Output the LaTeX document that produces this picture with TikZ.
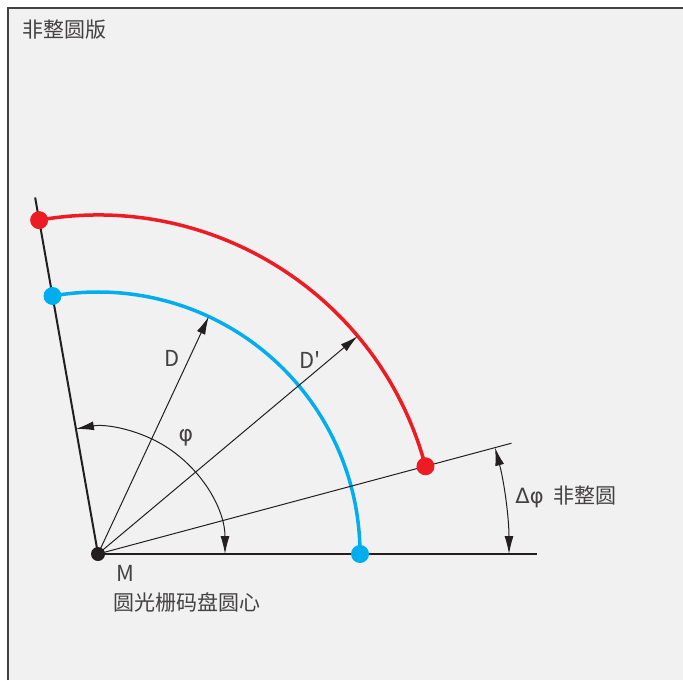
\documentclass[tikz,border=0pt]{standalone}
\usepackage{fontspec}
\setmainfont{Noto Sans CJK SC}
\newfontfamily\greekfont{DejaVu Sans}
\newfontfamily\plainfont{Noto Sans CJK SC}
\usetikzlibrary{arrows.meta, calc}
\definecolor{arcred}{HTML}{ED1C24}
\definecolor{arcblue}{HTML}{00AEEF}
\definecolor{panel}{HTML}{F1F1F1}
\definecolor{ink}{HTML}{231F20}
\tikzset{
  axis/.style={draw=ink, line width=1pt},
  ray/.style={draw=ink, line width=0.5pt},
  dim/.style={ink, line width=0.5pt, {Latex[length=9pt,width=4.5pt]}-{Latex[length=9pt,width=4.5pt]}},
  rad/.style={ink, line width=0.5pt, -{Latex[length=9pt,width=4.5pt]}},
  arcline/.style={line width=1.75pt},
  dot/.style={circle, fill=#1, inner sep=0pt, minimum size=9pt},
  lbl/.style={text=ink!85, font=\fontsize{10.5}{12}\selectfont, inner sep=0pt},
  let/.style={lbl, font=\fontsize{11}{12}\selectfont},
}
\begin{document}
\begin{tikzpicture}[x=0.5pt, y=0.5pt]
  \useasboundingbox (0,0) rectangle (683,680);
  \fill[panel] (8,0) rectangle (683,672);
  \draw[ink!85, line width=1pt] (8,0) -- (8,672) -- (683,672);
  \node[lbl] (title) at (64,650) {非整圆版};

  % centre and reference lines
  \coordinate (M) at (98,126);
  \coordinate (base) at ($(M)+(0:439)$);
  \coordinate (left) at ($(M)+(100:362)$);
  \coordinate (tilt) at ($(M)+(15:428)$);

  % graduation circles
  \coordinate (blue0) at ($(M)+(0:262)$);
  \coordinate (blue1) at ($(M)+(100:262)$);
  \coordinate (red0) at ($(M)+(15:339)$);
  \coordinate (red1) at ($(M)+(100:339)$);
  \draw[arcblue, arcline] (blue0) arc[start angle=0, end angle=100, radius=262];
  \draw[arcred, arcline] (red0) arc[start angle=15, end angle=100, radius=339];

  \draw[axis] (M) -- (base);
  \draw[axis] (M) -- (left);
  \draw[ray] (M) -- (tilt);

  % radii
  \coordinate (Dtip) at ($(M)+(65:262)$);
  \coordinate (D2tip) at ($(M)+(40:339)$);
  \draw[rad] (M) -- (Dtip);
  \draw[rad] (M) -- (D2tip);
  \node[let] (D) at (172,322) {D};
  \node[let] (D2) at (310,320) {\plainfont D'};

  % angles
  \coordinate (phi0) at ($(M)+(0:127)$);
  \draw[dim] (phi0) arc[start angle=0, end angle=100, radius=127];
  \node[let] (phi) at (186,242) {\greekfont φ};
  \coordinate (dphi0) at ($(M)+(0:411)$);
  \draw[dim] (dphi0) arc[start angle=0, end angle=15, radius=411];
  \node[lbl, anchor=west] (dphi) at (515,183) {{\greekfont Δφ}\ \ 非整圆};

  % points
  \node[dot=arcred] (r0) at (red0) {};
  \node[dot=arcred] (r1) at (red1) {};
  \node[dot=arcblue] (b0) at (blue0) {};
  \node[dot=arcblue] (b1) at (blue1) {};
  \node[dot=ink, minimum size=7pt] (centre) at (M) {};
  \node[let] (Mlbl) at (125,107) {M};
  \node[lbl] (sub) at (187,78) {圆光栅码盘圆心};
\end{tikzpicture}
\end{document}
